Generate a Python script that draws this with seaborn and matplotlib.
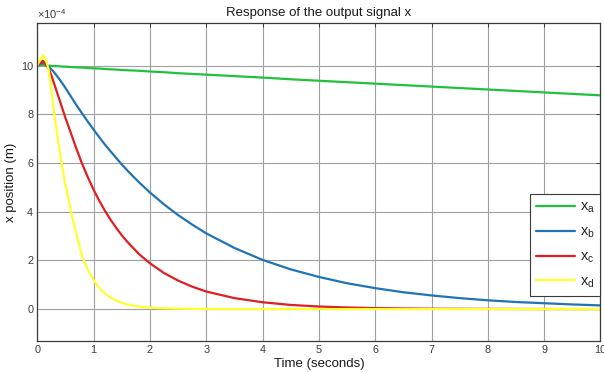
import matplotlib
matplotlib.use("Agg")
import matplotlib.pyplot as plt
import seaborn as sns
import pandas as pd

# Simulation time (s)
time_s = [0, 0.05, 0.1, 0.15, 0.2, 0.25, 0.3, 0.35, 0.4, 0.45, 0.5, 0.6, 0.7,
          0.8, 0.9, 1.0, 1.1, 1.2, 1.3, 1.4, 1.5, 1.6, 1.8, 2.0, 2.25, 2.5,
          2.75, 3.0, 3.5, 4.0, 4.5, 5.0, 5.5, 6.0, 6.5, 7.0, 7.5, 8.0, 8.5,
          9.0, 9.5, 10.0]

# Output position x for the four cases, in units of 1e-4 m
x_a = [10.0, 10.02, 10.04, 10.01, 10.0, 9.99, 9.98, 9.98, 9.97, 9.96, 9.96,
       9.94, 9.93, 9.92, 9.90, 9.89, 9.88, 9.86, 9.85, 9.84, 9.82, 9.81, 9.79,
       9.76, 9.73, 9.69, 9.66, 9.63, 9.57, 9.51, 9.44, 9.38, 9.32, 9.26, 9.20,
       9.14, 9.08, 9.02, 8.96, 8.90, 8.84, 8.78]
x_b = [10.0, 10.06, 10.12, 10.05, 9.95, 9.85, 9.72, 9.57, 9.42, 9.25, 9.08,
       8.72, 8.36, 8.02, 7.69, 7.37, 7.06, 6.76, 6.48, 6.21, 5.94, 5.69, 5.22,
       4.79, 4.30, 3.86, 3.47, 3.11, 2.51, 2.02, 1.63, 1.32, 1.06, 0.86, 0.69,
       0.56, 0.45, 0.36, 0.29, 0.24, 0.19, 0.15]
x_c = [10.0, 10.1, 10.2, 10.05, 9.88, 9.6, 9.25, 8.9, 8.55, 8.2, 7.85, 7.2,
       6.55, 5.94, 5.4, 4.9, 4.45, 4.04, 3.67, 3.34, 3.03, 2.76, 2.27, 1.88,
       1.48, 1.17, 0.92, 0.72, 0.45, 0.28, 0.17, 0.105, 0.065, 0.04, 0.025,
       0.015, 0.01, 0.006, 0.004, 0.002, 0.001, 0.0]
x_d = [10.0, 10.25, 10.44, 10.25, 9.85, 9.0, 8.0, 7.2, 6.45, 5.75, 5.1, 4.0,
       3.0, 2.15, 1.6, 1.19, 0.87, 0.64, 0.47, 0.35, 0.26, 0.19, 0.1, 0.055,
       0.03, 0.015, 0.008, 0.004, 0.002, 0.001, 0.0, 0.0, 0.0, 0.0, 0.0, 0.0,
       0.0, 0.0, 0.0, 0.0, 0.0, 0.0]

labels = [r"$\mathregular{x_a}$", r"$\mathregular{x_b}$",
          r"$\mathregular{x_c}$", r"$\mathregular{x_d}$"]
colors = ["#22c13c", "#1f74b6", "#df1f22", "#ffff2e"]
x_ticks = list(range(0, 11))
y_ticks = [0, 2, 4, 6, 8, 10]

frames = []
for lab, vals in zip(labels, [x_a, x_b, x_c, x_d]):
    frames.append(pd.DataFrame({"t": time_s, "x": vals, "case": lab}))
df = pd.concat(frames, ignore_index=True)

sns.set_theme(style="whitegrid")
plt.rcParams["font.family"] = ["Liberation Sans", "DejaVu Sans"]
plt.rcParams["mathtext.fontset"] = "custom"
plt.rcParams["mathtext.rm"] = "Liberation Sans"

fig = plt.figure(figsize=(6.04, 3.72), dpi=100)
ax = fig.add_axes([0.0618, 0.0841, 0.9324, 0.8533])

sns.lineplot(data=df, x="t", y="x", hue="case", palette=colors,
             hue_order=labels, estimator=None, sort=False, linewidth=1.6,
             ax=ax)

ax.set_xlim(0, 10)
ax.set_ylim(-1.3, 11.74)
ax.set_xticks(x_ticks)
ax.set_yticks(y_ticks)
ax.grid(True, color="#a0a0a0", linewidth=0.8)
ax.set_facecolor("white")
for sp in ax.spines.values():
    sp.set_color("#3a3a3a")
    sp.set_linewidth(0.9)
ax.tick_params(direction="in", length=3, width=0.7, colors="#3a3a3a",
               labelsize=7.8, labelcolor="#3a3a3a", top=True, right=True,
               pad=3)

ax.set_title("Response of the output signal x", fontsize=9.5, pad=5,
             color="#1a1a1a")
ax.set_xlabel("Time (seconds)", fontsize=9.5, labelpad=2, color="#1a1a1a")
ax.set_ylabel("x position (m)", fontsize=9.5, labelpad=3, color="#1a1a1a")
ax.text(0.0, 1.006, r"$\mathregular{\times 10^{-4}}$", transform=ax.transAxes,
        fontsize=8, color="#3a3a3a", ha="left", va="bottom")

leg = ax.legend(loc="upper right", bbox_to_anchor=(1.0, 0.462),
                borderaxespad=0, fontsize=10.5, handlelength=2.7,
                handletextpad=0.3, labelspacing=0.65, borderpad=0.4,
                frameon=True, fancybox=False, framealpha=1, title=None)
leg.get_frame().set_edgecolor("#3a3a3a")
leg.get_frame().set_linewidth(0.8)

fig.savefig("out.png", dpi=100, facecolor="white")
